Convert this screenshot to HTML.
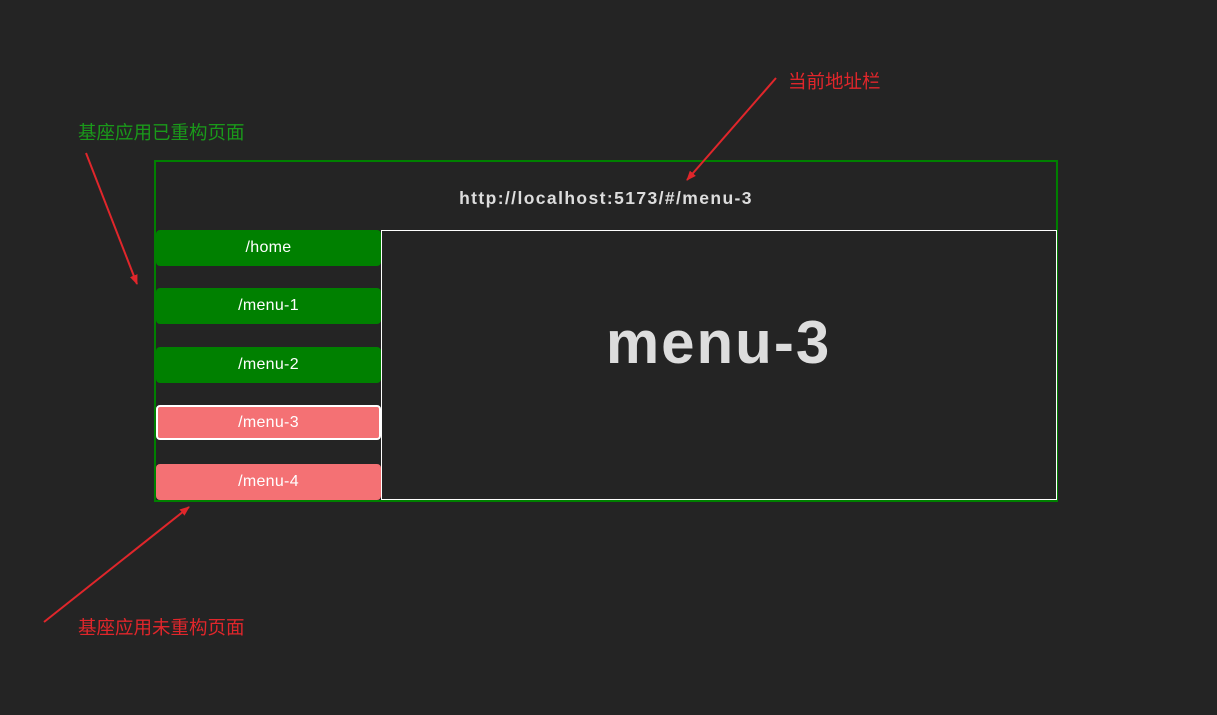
<!DOCTYPE html>
<html><head><meta charset="utf-8"><style>
body{margin:0;width:1217px;height:715px;background:#242424;position:relative;overflow:hidden;font-family:"Liberation Sans","Noto Sans CJK SC",sans-serif}
.a{position:absolute}
.btn{position:absolute;left:156px;width:225px;height:36px;border-radius:4px;color:#fff;font-size:16px;line-height:36px;text-align:center;box-sizing:border-box;letter-spacing:0.3px}
.g{background:#008000}.r{background:#f47174}
.lab{position:absolute;font-size:18.5px;white-space:nowrap}
</style></head><body>
<div class="a" style="left:154px;top:160px;width:900px;height:338px;border:2px solid #008000"></div>
<div class="a" style="left:156px;top:188px;width:900px;text-align:center;color:#ddd;font-weight:bold;font-size:17.5px;letter-spacing:1.4px">http://localhost:5173/#/menu-3</div>
<div class="a" style="left:381px;top:230px;width:674px;height:268px;border:1px solid #fff"></div>
<div class="a" style="left:381px;top:308px;width:675px;text-align:center;color:#ddd;font-weight:bold;font-size:60px;line-height:70px;letter-spacing:2px">menu-3</div>
<div class="btn g" style="top:230px">/home</div>
<div class="btn g" style="top:288px">/menu-1</div>
<div class="btn g" style="top:347px">/menu-2</div>
<div class="btn r" style="top:405px;height:35px;line-height:31px;border:2px solid #fff">/menu-3</div>
<div class="btn r" style="top:464px">/menu-4</div>
<div class="lab" style="left:78px;top:119px;color:#1a9a1a">基座应用已重构页面</div>
<div class="lab" style="left:788px;top:68px;color:#e0262b">当前地址栏</div>
<div class="lab" style="left:78px;top:614px;color:#e0262b">基座应用未重构页面</div>
<svg class="a" style="left:0;top:0" width="1217" height="715">
<defs><marker id="m" markerWidth="10" markerHeight="8" refX="9" refY="4" orient="auto" markerUnits="userSpaceOnUse"><path d="M0,0 L10,4 L0,8 Z" fill="#e0262b"/></marker></defs>
<g stroke="#e0262b" stroke-width="2" fill="none" marker-end="url(#m)">
<line x1="86" y1="153" x2="137" y2="284"/>
<line x1="776" y1="78" x2="687" y2="180"/>
<line x1="44" y1="622" x2="189" y2="507"/>
</g></svg>
</body></html>
